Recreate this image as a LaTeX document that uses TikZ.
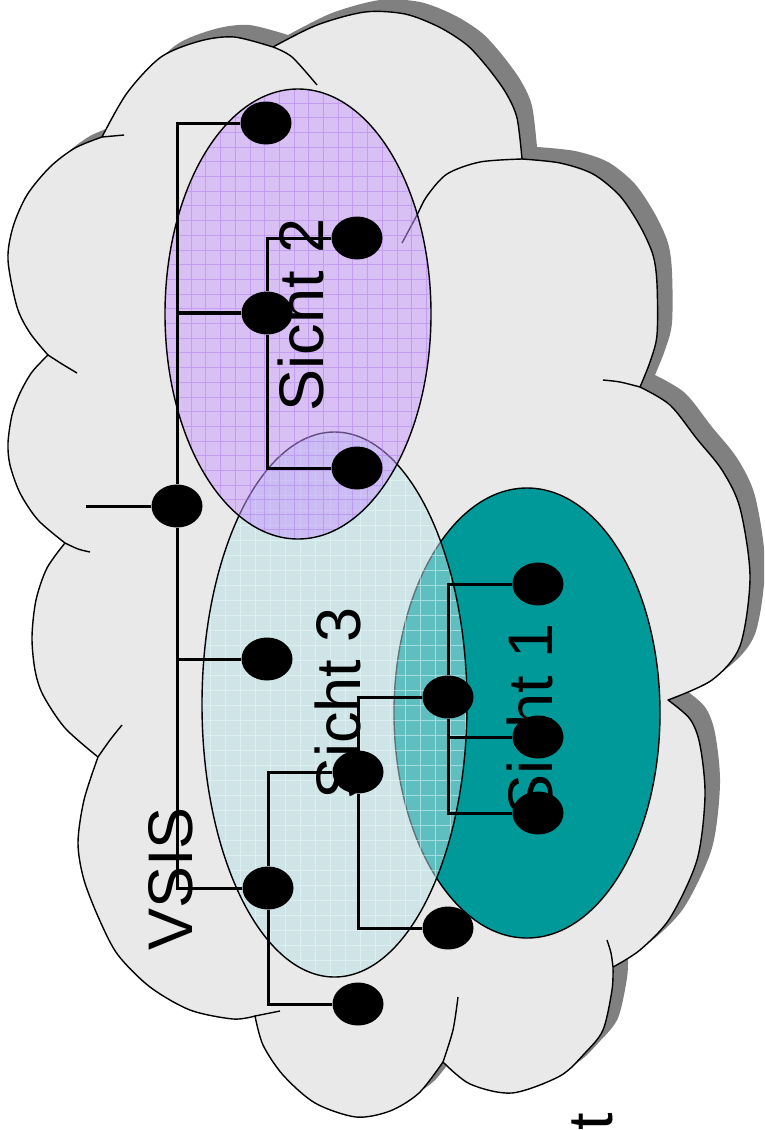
\documentclass[tikz,border=0pt]{standalone}
\usepackage{fontspec}
\setmainfont{Liberation Sans}
\usetikzlibrary{shapes.geometric}
\definecolor{vsisfill}{RGB}{233,233,233}
\definecolor{vsisshade}{RGB}{128,128,128}
\definecolor{sichtone}{RGB}{0,153,153}
\definecolor{sichttwo}{RGB}{200,150,255}
\definecolor{sichttwogrid}{RGB}{170,110,240}
\definecolor{sichtthree}{RGB}{183,224,228}
\definecolor{sichtthreegrid}{RGB}{235,250,252}
\tikzset{
  bump/.style={draw=black, line width=1.4pt, line join=round},
  rim/.style={draw=black, line width=1.4pt},
  dot/.style={ellipse, fill=black, inner sep=0pt, minimum width=51pt, minimum height=43pt},
  wire/.style={draw=black, line width=3pt},
  sichtlbl/.style={rotate=90, anchor=base, inner sep=0pt, font=\fontsize{63}{70}\selectfont}
}
% outline of the cloud, one smooth arc per bump
\newcommand{\vsiscloud}{%
  plot[smooth] coordinates {(102,-137) (127,-93) (161,-57) (200,-41) (234,-37) (273,-47)}
  -- plot[smooth] coordinates {(273,-47) (317,-25) (365,-12) (405,-14) (439,-27) (467,-45) (488,-68) (506,-93) (517,-118) (522,-159)}
  -- plot[smooth] coordinates {(522,-159) (560,-163) (593,-174) (620,-196) (640,-226) (653,-255) (657,-284) (657,-335) (650,-362) (640,-387)}
  -- plot[smooth] coordinates {(640,-387) (670,-405) (697,-439) (722,-470) (740,-508) (750,-577) (740,-646) (712,-680) (668,-700)}
  -- plot[smooth] coordinates {(668,-700) (690,-719) (700,-745) (705,-796) (697,-860) (670,-918) (640,-950) (613,-967)}
  -- plot[smooth] coordinates {(613,-967) (612,-990) (603,-1030) (585,-1053) (560,-1076) (512,-1093) (470,-1084) (443,-1062)}
  -- plot[smooth] coordinates {(443,-1062) (419,-1093) (390,-1111) (356,-1117) (315,-1103) (283,-1075) (263,-1045) (255,-1016)}
  -- plot[smooth] coordinates {(255,-1016) (233,-1019) (190,-1010) (150,-987) (118,-955) (100,-921) (84,-880) (78,-843) (84,-800) (98,-757)}
  -- plot[smooth] coordinates {(98,-757) (65,-728) (43,-695) (35,-670) (32,-637) (36,-600) (47,-568) (65,-543)}
  -- plot[smooth] coordinates {(65,-543) (38,-520) (20,-493) (10,-465) (8,-443) (12,-415) (20,-393) (32,-372) (48,-355)}
  -- plot[smooth] coordinates {(48,-355) (30,-333) (17,-307) (8,-260) (13,-227) (27,-195) (50,-167) (75,-148) (102,-137)}
  -- cycle}

\begin{document}
\begin{tikzpicture}[x=1pt,y=1pt]
  \useasboundingbox (0,0) rectangle (764,-1130);
  \clip (0,0) rectangle (764,-1130);

  % cloud with shadow
  \fill[vsisshade, shift={(15,12)}] \vsiscloud;
  \path[bump, fill=vsisfill] \vsiscloud;
  \draw[bump] plot[smooth] coordinates {(102,-137) (124,-135)};
  \draw[bump] plot[smooth] coordinates {(273,-47) (292,-57) (317,-85)};
  \draw[bump] plot[smooth] coordinates {(48,-355) (62,-364) (77,-373)};
  \draw[bump] plot[smooth] coordinates {(65,-543) (78,-549) (90,-552)};
  \draw[bump] plot[smooth] coordinates {(98,-757) (110,-740) (122,-725)};
  \draw[bump] plot[smooth] coordinates {(255,-1016) (280,-1011)};
  \draw[bump] plot[smooth] coordinates {(443,-1062) (453,-1030) (458,-997)};
  \draw[bump] plot[smooth] coordinates {(613,-967) (611,-953) (607,-940)};
  \draw[bump] plot[smooth] coordinates {(640,-387) (620,-382) (603,-380)};
  \draw[bump] plot[smooth] coordinates {(522,-159) (480,-162) (447,-174) (427,-196) (417,-215) (402,-243)};

  \coordinate (sicht1c) at (527,-713);
  \coordinate (sicht3c) at (334.5,-704.5);
  \coordinate (sicht2c) at (298,-314);

  % Sicht 1
  \path[rim, fill=sichtone] (sicht1c) ellipse [x radius=133, y radius=225];

  % Sicht 3
  \fill[sichtthree, fill opacity=0.52] (sicht3c) ellipse [x radius=132.5, y radius=272.5];
  \begin{scope}
    \clip (sicht3c) ellipse [x radius=132.5, y radius=272.5];
    \draw[sichtthreegrid, line width=0.8pt, draw opacity=0.5] (195,-985) grid[step=15pt] (475,-425);
  \end{scope}
  \draw[rim] (sicht3c) ellipse [x radius=132.5, y radius=272.5];

  % Sicht 2
  \fill[sichttwo, fill opacity=0.5] (sicht2c) ellipse [x radius=133, y radius=225];
  \begin{scope}
    \clip (sicht2c) ellipse [x radius=133, y radius=225];
    \draw[sichttwogrid, line width=0.8pt, draw opacity=0.42] (160,-545) grid[step=14.7pt] (436,-84);
  \end{scope}
  \draw[rim] (sicht2c) ellipse [x radius=133, y radius=225];

  \node[sichtlbl] (lbl2) at (323,-315) {Sicht 2};
  \node[sichtlbl] (lbl3) at (360,-703.5) {Sicht 3};
  \node[sichtlbl] (lbl1) at (552,-720) {Sicht 1};
  \node[sichtlbl] (lblvsis) at (192,-879) {VSIS};
  \node[sichtlbl, anchor=base east] (lbltail) at (612,-1113) {t};

  % nodes
  \node[dot] (d1) at (266,-123) {};
  \node[dot] (d2) at (357,-238) {};
  \node[dot] (d3) at (267,-313) {};
  \node[dot] (d4) at (357,-468) {};
  \node[dot] (d5) at (177,-506) {};
  \node[dot] (d6) at (267,-659) {};
  \node[dot] (d7) at (448,-697) {};
  \node[dot] (d8) at (538,-584) {};
  \node[dot] (d9) at (538,-737) {};
  \node[dot] (d10) at (358,-772) {};
  \node[dot] (d11) at (538,-813) {};
  \node[dot] (d12) at (268,-888) {};
  \node[dot] (d13) at (448,-928) {};
  \node[dot] (d14) at (358,-1004) {};
  \coordinate (stub) at (86,-506);

  % wires
  \draw[wire] (d1) -| (d5);
  \draw[wire] (d6) -| (d5);
  \draw[wire] (d12) -| (d5);
  \draw[wire, line width=4.5pt] (d3) -- (d3 -| d5);
  \draw[wire] (stub) -- (d5);
  \draw[wire] (d2) -| (d3) |- (d4);
  \draw[wire] (d10) -| (d12) |- (d14);
  \draw[wire] (d7) -| (d10) |- (d13);
  \draw[wire] (d8) -| (d7) |- (d11);
  \draw[wire] (d9) -| (d7);
\end{tikzpicture}
\end{document}
